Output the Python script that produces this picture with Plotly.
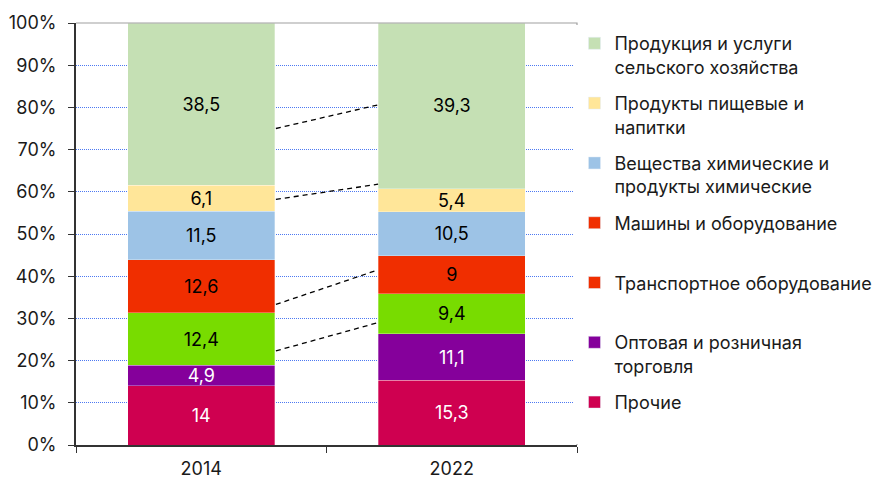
import plotly.graph_objects as go

years = ["2014", "2022"]
series_names = [
    "Прочие",
    "Оптовая и розничная торговля",
    "Транспортное оборудование",
    "Машины и оборудование",
    "Вещества химические и продукты химические",
    "Продукты пищевые и напитки",
    "Продукция и услуги сельского хозяйства",
]
values_2014 = [14, 4.9, 12.4, 12.6, 11.5, 6.1, 38.5]
values_2022 = [15.3, 11.1, 9.4, 9, 10.5, 5.4, 39.3]
bar_colors = ["#CF0050", "#85009B", "#78DC00", "#F02E00", "#9DC3E6", "#FFE699", "#C5E0B4"]
text_colors = ["white", "white", "black", "black", "black", "black", "black"]

legend_labels = [
    "Продукция и услуги<br>сельского хозяйства",
    "Продукты пищевые и<br>напитки",
    "Вещества химические и<br>продукты химические",
    "Машины и оборудование<br> ",
    "Транспортное оборудование<br> ",
    "Оптовая и розничная<br>торговля",
    "Прочие<br> ",
]
legend_colors = ["#C5E0B4", "#FFE699", "#9DC3E6", "#F02E00", "#F02E00", "#85009B", "#CF0050"]

# decorative dashed connectors (percent values at 2014 right edge / 2022 left edge)
connector_2014 = [22.3, 33.3, 58.2, 75.0]
connector_2022 = [29.0, 41.5, 61.8, 80.6]
connector_x = [0.298, 0.706]

FONT = "Inter"
FS = 18
fig = go.Figure()

for i, name in enumerate(series_names):
    vals = [values_2014[i], values_2022[i]]
    fig.add_trace(go.Bar(
        x=years, y=vals, name=name,
        marker=dict(color=bar_colors[i], line=dict(width=0.6, color="rgba(255,255,255,0.5)")),
        text=[f"{v:g}".replace(".", ",") for v in vals],
        textposition="inside", insidetextanchor="middle", constraintext="none",
        textfont=dict(color=text_colors[i], size=FS, family=FONT),
        showlegend=False, hoverinfo="skip",
    ))

for lbl, col in zip(legend_labels, legend_colors):
    fig.add_trace(go.Bar(
        x=[None], y=[None], name=lbl, marker_color=col,
        showlegend=True, legendgroup=lbl,
    ))

for a, b in zip(connector_2014, connector_2022):
    fig.add_trace(go.Scatter(
        x=connector_x, y=[a, b], mode="lines", xaxis="x2",
        line=dict(color="black", width=1.3, dash="5px,4px"),
        showlegend=False, hoverinfo="skip",
    ))

# page body has an 8px margin, so the figure is sized 8px smaller
fig.update_layout(
    width=873, height=469,
    margin=dict(l=68, r=304, t=15, b=32, autoexpand=False),
    paper_bgcolor="white", plot_bgcolor="white",
    barmode="stack", bargap=0.413,
    separators=", ",
    font=dict(family=FONT, size=FS, color="#1a1a1a"),
    uniformtext=dict(mode="show", minsize=FS),
    legend=dict(
        x=0.995, y=0.995, xanchor="left", yanchor="top",
        traceorder="grouped", tracegroupgap=10, valign="top",
        font=dict(size=FS, family=FONT, color="#1a1a1a"),
        itemwidth=30,
    ),
    xaxis=dict(
        type="category", showgrid=False, showline=True, linecolor="#333333", linewidth=1.8,
        ticks="outside", tickson="boundaries", ticklen=6, tickcolor="#333333",
        tickfont=dict(size=FS, family=FONT), ticklabelstandoff=6,
    ),
    xaxis2=dict(overlaying="x", range=[-0.5, 1.5], visible=False),
    yaxis=dict(
        range=[0, 100], dtick=10, ticksuffix="%",
        showgrid=True, gridcolor="#4D79F2", griddash="1px,1px", gridwidth=1.2,
        showline=True, linecolor="#333333", linewidth=1.8,
        ticks="outside", ticklen=6, tickcolor="#333333",
        tickfont=dict(size=FS, family=FONT), zeroline=False,
        ticklabelstandoff=8,
    ),
    shapes=[dict(type="path", xref="paper", yref="paper", path="M 0,1 L 1,1 L 1,0",
                 line=dict(color="#A0A0A0", width=1.2), layer="above")],
)

fig.write_html("out.html")
